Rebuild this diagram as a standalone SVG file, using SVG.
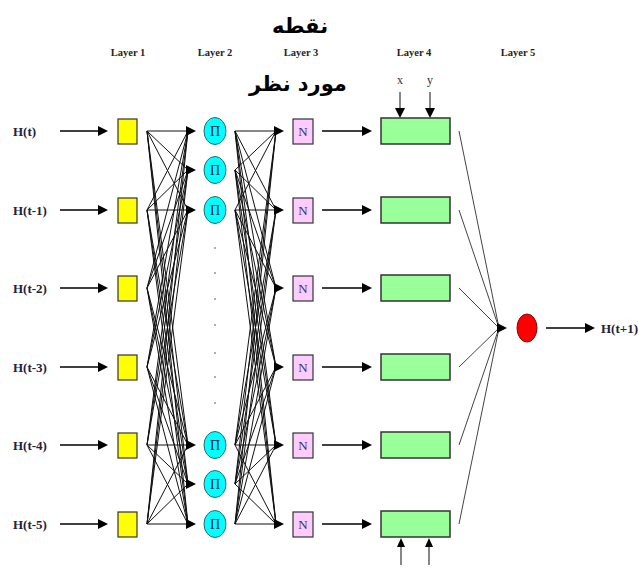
<svg xmlns="http://www.w3.org/2000/svg" xmlns:xlink="http://www.w3.org/1999/xlink" width="638" height="572" viewBox="0 0 638 572">
<style>
.lbl{font-family:"Liberation Serif","Times New Roman",serif;font-weight:bold;font-size:13px;fill:#22223a;dominant-baseline:central}
.lay{font-family:"Liberation Serif","Times New Roman",serif;font-weight:bold;font-size:10.5px;fill:#2a2222;text-anchor:middle}
.fa{font-family:"DejaVu Sans","Noto Sans",sans-serif;font-weight:bold;font-size:21px;fill:#000;text-anchor:middle}
.xy{font-family:"Liberation Serif","Times New Roman",serif;font-size:12px;fill:#333;text-anchor:middle}
.yel{fill:#ffff00;stroke:#333;stroke-width:1.2}
.pi{fill:#00ffff;stroke:#2a6a6a;stroke-width:1}
.pit{font-family:"Liberation Serif","Times New Roman",serif;font-size:14px;fill:#1a1a40;text-anchor:middle;dominant-baseline:central}
.nb{fill:#ffccff;stroke:#333;stroke-width:1.2}
.nt{font-family:"Liberation Serif","Times New Roman",serif;font-size:13px;fill:#333366;text-anchor:middle;dominant-baseline:central}
.gr{fill:#99ff99;stroke:#333;stroke-width:1.5}
.ln{stroke:#111;stroke-width:1;fill:none}
.th{stroke:#000;stroke-width:1.6;fill:none}
.gl{stroke:#444;stroke-width:1;fill:none}
.dot{fill:#7f9aa8}
</style>
<defs>
<path id="ah" d="M0,0 L-10,-5 L-10,5 Z" fill="#000"/>
<path id="ahd" d="M0,0 L-5,-10 L5,-10 Z" fill="#000"/>
<path id="ahu" d="M0,0 L-4,9 L4,9 Z" fill="#000"/>
</defs>

<!-- titles -->
<text class="fa" x="300" y="33">نقطه</text>
<text class="fa" x="298" y="91">مورد نظر</text>
<text class="lay" x="128" y="56">Layer 1</text>
<text class="lay" x="215" y="56">Layer 2</text>
<text class="lay" x="301" y="56">Layer 3</text>
<text class="lay" x="414" y="56">Layer 4</text>
<text class="lay" x="518" y="56">Layer 5</text>
<text class="xy" x="400" y="84">x</text>
<text class="xy" x="430" y="84">y</text>

<!-- input labels -->
<g id="inputs">
<text class="lbl" x="13" y="131">H(t)</text>
<text class="lbl" x="13" y="210">H(t-1)</text>
<text class="lbl" x="13" y="288">H(t-2)</text>
<text class="lbl" x="13" y="367">H(t-3)</text>
<text class="lbl" x="13" y="445">H(t-4)</text>
<text class="lbl" x="13" y="524">H(t-5)</text>
</g>

<g id="connectors">
<!-- input arrows -->
<g class="th">
<line x1="60" y1="131" x2="100" y2="131"/><line x1="60" y1="210" x2="100" y2="210"/>
<line x1="60" y1="288" x2="100" y2="288"/><line x1="60" y1="367" x2="100" y2="367"/>
<line x1="60" y1="445" x2="100" y2="445"/><line x1="60" y1="524" x2="100" y2="524"/>
</g>
<use href="#ah" x="108" y="131"/><use href="#ah" x="108" y="210"/><use href="#ah" x="108" y="288"/>
<use href="#ah" x="108" y="367"/><use href="#ah" x="108" y="445"/><use href="#ah" x="108" y="524"/>

<!-- layer1 -> layer2 -->
<g class="ln">
<path d="M147,131 L188,131 M147,131 L188,170 M147,131 L188,210 M147,131 L188,445 M147,131 L188,484 M147,131 L188,524"/>
<path d="M147,210 L188,131 M147,210 L188,170 M147,210 L188,210 M147,210 L188,445 M147,210 L188,484 M147,210 L188,524"/>
<path d="M147,288 L188,131 M147,288 L188,170 M147,288 L188,210 M147,288 L188,445 M147,288 L188,484 M147,288 L188,524"/>
<path d="M147,367 L188,131 M147,367 L188,170 M147,367 L188,210 M147,367 L188,445 M147,367 L188,484 M147,367 L188,524"/>
<path d="M147,445 L188,131 M147,445 L188,170 M147,445 L188,210 M147,445 L188,445 M147,445 L188,484 M147,445 L188,524"/>
<path d="M147,524 L188,131 M147,524 L188,170 M147,524 L188,210 M147,524 L188,445 M147,524 L188,484 M147,524 L188,524"/>
</g>
<use href="#ah" x="196" y="131"/><use href="#ah" x="196" y="170"/><use href="#ah" x="196" y="210"/>
<use href="#ah" x="196" y="445"/><use href="#ah" x="196" y="484"/><use href="#ah" x="196" y="524"/>

<!-- layer2 -> layer3 -->
<g class="ln">
<path d="M235,131 L276,131 M235,131 L276,210 M235,131 L276,288 M235,131 L276,367 M235,131 L276,445 M235,131 L276,524"/>
<path d="M235,170 L276,131 M235,170 L276,210 M235,170 L276,288 M235,170 L276,367 M235,170 L276,445 M235,170 L276,524"/>
<path d="M235,210 L276,131 M235,210 L276,210 M235,210 L276,288 M235,210 L276,367 M235,210 L276,445 M235,210 L276,524"/>
<path d="M235,445 L276,131 M235,445 L276,210 M235,445 L276,288 M235,445 L276,367 M235,445 L276,445 M235,445 L276,524"/>
<path d="M235,484 L276,131 M235,484 L276,210 M235,484 L276,288 M235,484 L276,367 M235,484 L276,445 M235,484 L276,524"/>
<path d="M235,524 L276,131 M235,524 L276,210 M235,524 L276,288 M235,524 L276,367 M235,524 L276,445 M235,524 L276,524"/>
</g>
<use href="#ah" x="284" y="131"/><use href="#ah" x="284" y="210"/><use href="#ah" x="284" y="288"/>
<use href="#ah" x="284" y="367"/><use href="#ah" x="284" y="445"/><use href="#ah" x="284" y="524"/>

<!-- layer3 -> layer4 -->
<g class="th">
<line x1="322" y1="131" x2="364" y2="131"/><line x1="322" y1="210" x2="364" y2="210"/>
<line x1="322" y1="288" x2="364" y2="288"/><line x1="322" y1="367" x2="364" y2="367"/>
<line x1="322" y1="445" x2="364" y2="445"/><line x1="322" y1="524" x2="364" y2="524"/>
</g>
<use href="#ah" x="372" y="131"/><use href="#ah" x="372" y="210"/><use href="#ah" x="372" y="288"/>
<use href="#ah" x="372" y="367"/><use href="#ah" x="372" y="445"/><use href="#ah" x="372" y="524"/>

<!-- x, y arrows -->
<g class="ln">
<line x1="400" y1="92" x2="400" y2="110"/><line x1="430" y1="92" x2="430" y2="110"/>
<line x1="401" y1="565" x2="401" y2="545"/><line x1="429" y1="565" x2="429" y2="545"/>
</g>
<use href="#ahd" x="400" y="118"/><use href="#ahd" x="430" y="118"/>
<use href="#ahu" x="401" y="538"/><use href="#ahu" x="429" y="538"/>

<!-- layer4 -> layer5 -->
<g class="gl">
<line x1="459" y1="131" x2="499" y2="328"/><line x1="459" y1="210" x2="499" y2="328"/>
<line x1="459" y1="288" x2="499" y2="328"/><line x1="459" y1="367" x2="499" y2="328"/>
<line x1="459" y1="445" x2="499" y2="328"/><line x1="459" y1="524" x2="499" y2="328"/>
</g>
<use href="#ah" x="507" y="328"/>

<!-- output -->
<line class="th" x1="546" y1="328" x2="587" y2="328"/>
<use href="#ah" x="595" y="328"/>
</g>

<g id="layer1">
<rect class="yel" x="118" y="119" width="19" height="25"/>
<rect class="yel" x="118" y="198" width="19" height="25"/>
<rect class="yel" x="118" y="276" width="19" height="25"/>
<rect class="yel" x="118" y="355" width="19" height="25"/>
<rect class="yel" x="118" y="433" width="19" height="25"/>
<rect class="yel" x="118" y="512" width="19" height="25"/>
</g>

<g id="layer2">
<ellipse class="pi" cx="215" cy="131" rx="11" ry="13.5"/><text class="pit" x="215" y="131">Π</text>
<ellipse class="pi" cx="215" cy="170" rx="11" ry="13.5"/><text class="pit" x="215" y="170">Π</text>
<ellipse class="pi" cx="215" cy="210" rx="11" ry="13.5"/><text class="pit" x="215" y="210">Π</text>
<ellipse class="pi" cx="215" cy="445" rx="11" ry="13.5"/><text class="pit" x="215" y="445">Π</text>
<ellipse class="pi" cx="215" cy="484" rx="11" ry="13.5"/><text class="pit" x="215" y="484">Π</text>
<ellipse class="pi" cx="215" cy="524" rx="11" ry="13.5"/><text class="pit" x="215" y="524">Π</text>
<circle class="dot" cx="215" cy="248" r="1"/><circle class="dot" cx="215" cy="273" r="1"/>
<circle class="dot" cx="215" cy="299" r="1"/><circle class="dot" cx="215" cy="325" r="1"/>
<circle class="dot" cx="215" cy="353" r="1"/><circle class="dot" cx="215" cy="377" r="1"/>
<circle class="dot" cx="215" cy="403" r="1"/>
</g>

<g id="layer3">
<rect class="nb" x="293" y="119" width="20" height="25"/><text class="nt" x="303" y="131.5">N</text>
<rect class="nb" x="293" y="198" width="20" height="25"/><text class="nt" x="303" y="210.5">N</text>
<rect class="nb" x="293" y="276" width="20" height="25"/><text class="nt" x="303" y="288.5">N</text>
<rect class="nb" x="293" y="355" width="20" height="25"/><text class="nt" x="303" y="367.5">N</text>
<rect class="nb" x="293" y="433" width="20" height="25"/><text class="nt" x="303" y="445.5">N</text>
<rect class="nb" x="293" y="512" width="20" height="25"/><text class="nt" x="303" y="524.5">N</text>
</g>

<g id="layer4">
<rect class="gr" x="381" y="118" width="69" height="26"/>
<rect class="gr" x="381" y="197" width="69" height="26"/>
<rect class="gr" x="381" y="275" width="69" height="26"/>
<rect class="gr" x="381" y="354" width="69" height="26"/>
<rect class="gr" x="381" y="432" width="69" height="26"/>
<rect class="gr" x="381" y="511" width="69" height="26"/>
</g>

<g id="layer5">
<ellipse cx="527" cy="328" rx="10" ry="14" fill="#ff0000" stroke="#7a1010" stroke-width="1"/>
</g>

<g id="output">
<text class="lbl" x="601" y="328">H(t+1)</text>
</g>
</svg>
